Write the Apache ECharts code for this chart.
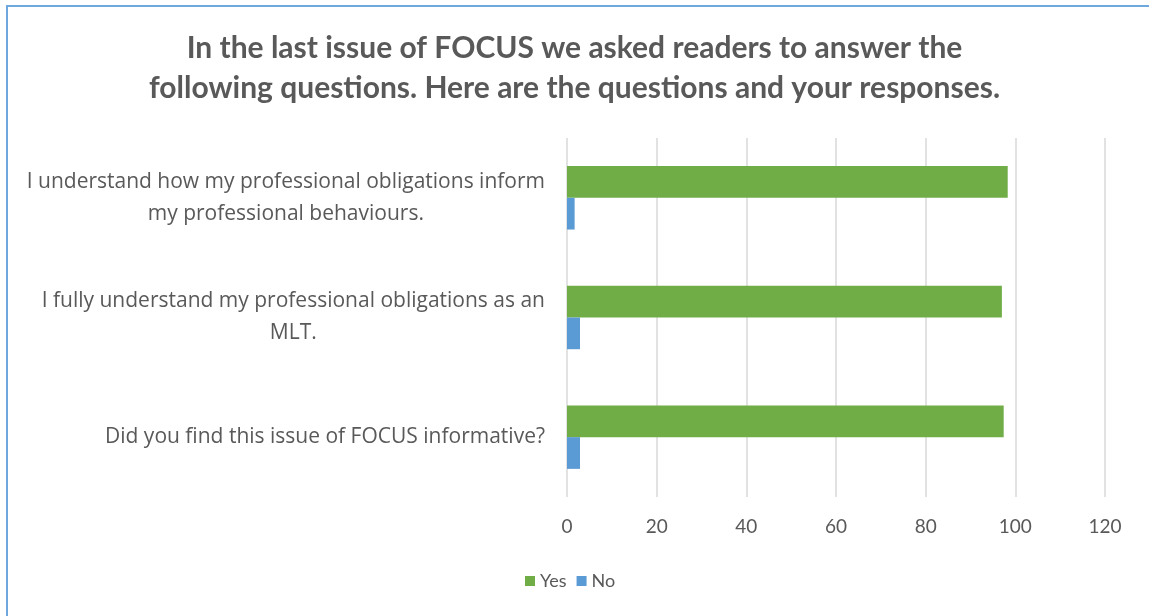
<!DOCTYPE html>
<html>
<head>
<meta charset="utf-8">
<script src="https://cdn.jsdelivr.net/npm/echarts@6/dist/echarts.min.js"></script>
<style>
  html, body { margin: 0; padding: 0; background: #fff; }
  #chart { width: 1149px; height: 616px; }
</style>
</head>
<body>
<div id="chart"></div>
<script>
  // questions, listed top to bottom as shown
  var questions = [
    'I understand how my professional obligations inform\nmy professional behaviours.',
    'I fully understand my professional obligations as an\nMLT.',
    'Did you find this issue of FOCUS informative?'
  ];
  var yesValues = [98.3, 97.0, 97.4];
  var noValues = [1.7, 2.9, 2.9];
  var tickValues = [0, 20, 40, 60, 80, 100, 120];

  var chart = echarts.init(document.getElementById('chart'));

  var font = 'Lato';
  var grey = '#595959';

  var option = {
    animation: false,
    title: {
      text: 'In the last issue of FOCUS we asked readers to answer the\nfollowing questions. Here are the questions and your responses.',
      left: 'center',
      top: 23,
      textStyle: {
        fontFamily: font,
        fontWeight: 'bold',
        fontSize: 30,
        lineHeight: 40,
        color: grey
      }
    },
    legend: {
      bottom: 21,
      left: 520,
      itemWidth: 10,
      itemHeight: 10,
      itemGap: 10,
      icon: 'rect',
      textStyle: { fontFamily: font, fontSize: 18, color: grey },
      data: ['Yes', 'No']
    },
    grid: {
      left: 567,
      right: 44,
      top: 138,
      bottom: 119
    },
    xAxis: {
      type: 'value',
      min: tickValues[0],
      max: tickValues[tickValues.length - 1],
      interval: 20,
      axisLine: { show: false },
      axisTick: { show: false },
      axisLabel: { fontFamily: font, fontSize: 19, color: grey, margin: 20 },
      splitLine: { lineStyle: { color: '#d9d9d9', width: 1.5 } }
    },
    yAxis: {
      type: 'category',
      inverse: true,
      data: questions,
      axisLine: { show: false },
      axisTick: { show: false },
      axisLabel: {
        margin: 22,
        formatter: function (v) {
          return v.split('\n').map(function (s) { return '{c|' + s + '}'; }).join('\n');
        },
        rich: {
          c: { align: 'center', fontFamily: 'Open Sans', fontSize: 21, lineHeight: 32, color: grey }
        }
      }
    },
    series: [
      {
        name: 'Yes',
        type: 'bar',
        data: yesValues,
        barGap: '0%',
        barCategoryGap: '47%',
        itemStyle: { color: '#70ad47' }
      },
      {
        name: 'No',
        type: 'bar',
        data: noValues,
        barGap: '0%',
        barCategoryGap: '47%',
        itemStyle: { color: '#5b9bd5' }
      }
    ],
    graphic: [
      {
        type: 'rect',
        shape: { x: 7, y: 6, width: 2000, height: 2000 },
        style: { fill: 'none', stroke: '#6fa8dc', lineWidth: 2 },
        silent: true
      }
    ]
  };

  chart.setOption(option);
</script>
</body>
</html>
